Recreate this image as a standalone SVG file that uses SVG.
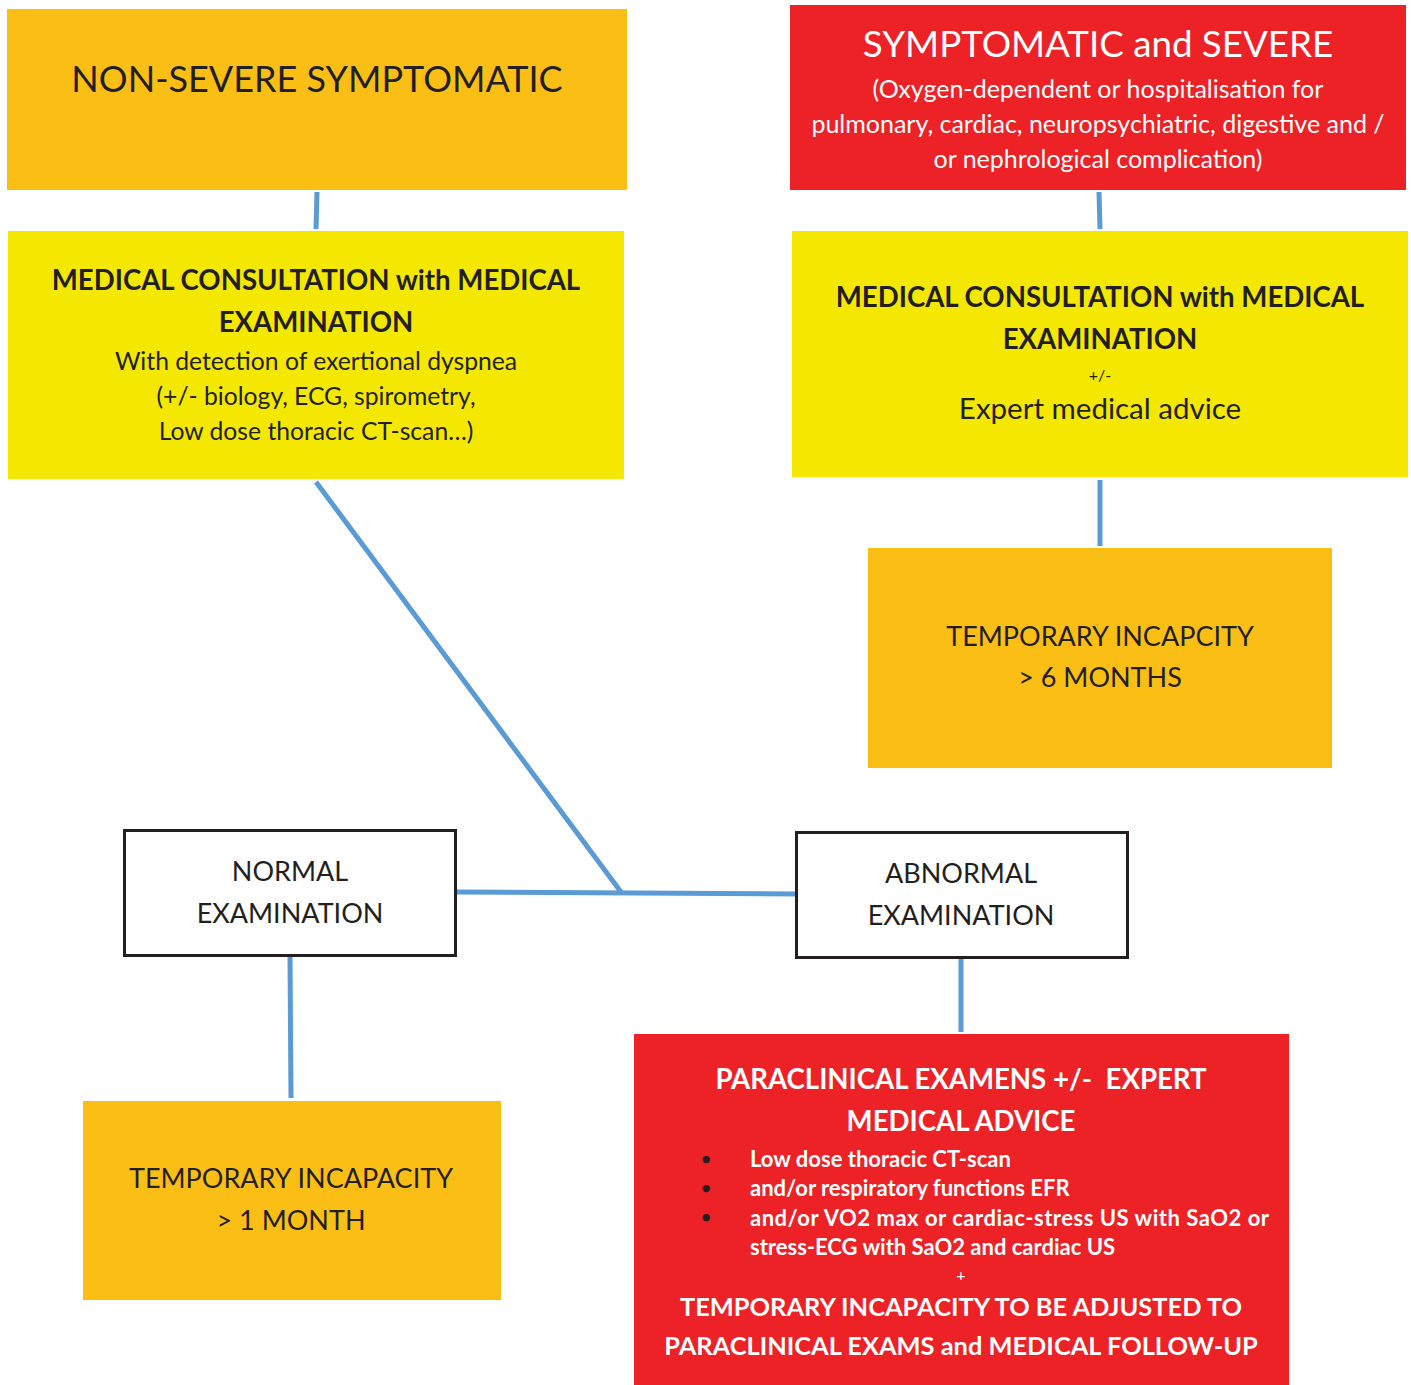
<svg xmlns="http://www.w3.org/2000/svg" width="1411" height="1385" viewBox="0 0 1411 1385">
<style>
text{font-family:Lato,"Open Sans","Liberation Sans",sans-serif;text-anchor:middle;fill:#231F20}
.w{fill:#FFFFFF}
.b{font-weight:bold}
.orange{fill:#FBBE14}
.yellow{fill:#F5E800}
.red{fill:#EC2227}
.plain{fill:#FFFFFF;stroke:#231F20;stroke-width:3}
.conn{stroke:#5B9BD5;stroke-width:5;fill:none}
</style>
<rect width="1411" height="1385" fill="#FFFFFF"/>
<g id="connectors">
<line class="conn" x1="317" y1="192" x2="316" y2="229"/>
<line class="conn" x1="1099" y1="192" x2="1100" y2="229"/>
<line class="conn" x1="1100" y1="480" x2="1100" y2="546"/>
<line class="conn" x1="316" y1="482" x2="621" y2="892"/>
<line class="conn" x1="456" y1="892" x2="796" y2="894"/>
<line class="conn" x1="290" y1="956" x2="291" y2="1098"/>
<line class="conn" x1="961" y1="958" x2="961" y2="1032"/>
</g>
<g id="non-severe">
<rect class="orange" x="7" y="9" width="620" height="181"/>
<text x="317" y="92" font-size="36">NON-SEVERE SYMPTOMATIC</text>
</g>
<g id="severe">
<rect class="red" x="790" y="5" width="616" height="185"/>
<text class="w" x="1098" y="57" font-size="36.7">SYMPTOMATIC and SEVERE</text>
<text class="w" x="1098" y="98" font-size="25">(Oxygen-dependent or hospitalisation for</text>
<text class="w" x="1098" y="133" font-size="25">pulmonary, cardiac, neuropsychiatric, digestive and /</text>
<text class="w" x="1098" y="168" font-size="25">or nephrological complication)</text>
</g>
<g id="consult-left">
<rect class="yellow" x="8" y="231" width="616" height="248"/>
<text class="b" x="316" y="290" font-size="27.6">MEDICAL CONSULTATION with MEDICAL</text>
<text class="b" x="316" y="332" font-size="27.6">EXAMINATION</text>
<text x="316" y="370" font-size="24.7">With detection of exertional dyspnea</text>
<text x="316" y="405" font-size="24.7">(+/- biology, ECG, spirometry,</text>
<text x="316" y="440" font-size="24.7">Low dose thoracic CT-scan…)</text>
</g>
<g id="consult-right">
<rect class="yellow" x="792" y="231" width="616" height="246"/>
<text class="b" x="1100" y="307" font-size="27.6">MEDICAL CONSULTATION with MEDICAL</text>
<text class="b" x="1100" y="349" font-size="27.6">EXAMINATION</text>
<text x="1100" y="381" font-size="16">+/-</text>
<text x="1100" y="419" font-size="29.5">Expert medical advice</text>
</g>
<g id="incapacity-6m">
<rect class="orange" x="868" y="548" width="464" height="220"/>
<text x="1100" y="646" font-size="27">TEMPORARY INCAPCITY</text>
<text x="1100" y="687" font-size="27">&gt; 6 MONTHS</text>
</g>
<g id="normal">
<rect class="plain" x="124.5" y="830.5" width="331" height="125"/>
<text x="290" y="881" font-size="27">NORMAL</text>
<text x="290" y="923" font-size="27">EXAMINATION</text>
</g>
<g id="abnormal">
<rect class="plain" x="796.5" y="832.5" width="331" height="125"/>
<text x="961" y="883" font-size="27">ABNORMAL</text>
<text x="961" y="925" font-size="27">EXAMINATION</text>
</g>
<g id="incapacity-1m">
<rect class="orange" x="83" y="1101" width="418" height="199"/>
<text x="291" y="1188" font-size="27">TEMPORARY INCAPACITY</text>
<text x="291" y="1230" font-size="27">&gt; 1 MONTH</text>
</g>
<g id="paraclinical">
<rect class="red" x="634" y="1034" width="655" height="351"/>
<text class="w b" x="961" y="1089" font-size="27.6" xml:space="preserve">PARACLINICAL EXAMENS +/-  EXPERT</text>
<text class="w b" x="961" y="1131" font-size="27.6">MEDICAL ADVICE</text>
<g font-size="22">
<text x="706" y="1166" font-size="20">•</text>
<text x="706" y="1195" font-size="20">•</text>
<text x="706" y="1224" font-size="20">•</text>
<text class="w b" x="750" y="1167" style="text-anchor:start">Low dose thoracic CT-scan</text>
<text class="w b" x="750" y="1196" style="text-anchor:start">and/or respiratory functions EFR</text>
<text class="w b" x="750" y="1226" style="text-anchor:start" textLength="519" lengthAdjust="spacing">and/or VO2 max or cardiac-stress US with SaO2 or</text>
<text class="w b" x="750" y="1255" style="text-anchor:start">stress-ECG with SaO2 and cardiac US</text>
</g>
<text class="w" x="961" y="1281" font-size="16">+</text>
<text class="w b" x="961" y="1316" font-size="25.4">TEMPORARY INCAPACITY TO BE ADJUSTED TO</text>
<text class="w b" x="961" y="1355" font-size="25.4">PARACLINICAL EXAMS and MEDICAL FOLLOW-UP</text>
</g>
</svg>
